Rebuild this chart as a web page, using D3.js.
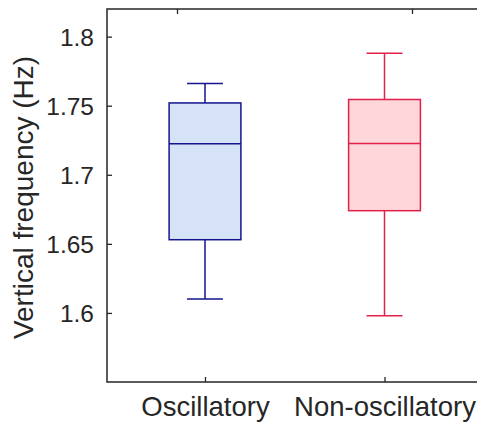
<!DOCTYPE html>
<html>
<head>
<meta charset="utf-8">
<script src="https://cdn.jsdelivr.net/npm/d3@7"></script>
<style>
  html, body { margin: 0; padding: 0; background: #ffffff; }
  svg { display: block; }
  text { font-family: "Liberation Sans", Arial, Helvetica, sans-serif; fill: #262626; }
</style>
</head>
<body>
<svg id="chart" width="477" height="422"></svg>
<script>
// ---- data ----
const categories = ["Oscillatory", "Non-oscillatory"];
const whiskerLow  = [1.610, 1.598];
const q1          = [1.653, 1.674];
const medians     = [1.7225, 1.7227];
const q3          = [1.752, 1.7545];
const whiskerHigh = [1.766, 1.788];
const yTickValues = [1.6, 1.65, 1.7, 1.75, 1.8];
const yTickLabels = ["1.6", "1.65", "1.7", "1.75", "1.8"];
const yLabel = "Vertical frequency (Hz)";

(function () {
// ---- styles ----
const strokeColors = ["#14148f", "#e3204b"];
const fillColors   = ["#d6e2f5", "#ffd6d9"];
const axisColor = "#262626";

const svg = d3.select("#chart");
const W = 477;
const mLeft = 107, mTop = 9, mBottom = 382;

const y = d3.scaleLinear().domain([1.55, 1.82]).range([mBottom, mTop]);
const x = d3.scaleLinear().domain([1, 2]).range([205, 384.5]);
const xTop = d3.scaleLinear().domain([1, 2]).range([177, 412]);
const boxW = 0.4, capW = 0.2;

const data = categories.map((c, i) => ({
  c, i, pos: i + 1,
  lo: whiskerLow[i], q1: q1[i], med: medians[i], q3: q3[i], hi: whiskerHigh[i]
}));

const g = svg.append("g");

// boxes
const bx = g.selectAll("g.box").data(data).enter().append("g").attr("class", "box");
bx.append("line")
  .attr("x1", d => x(d.pos)).attr("x2", d => x(d.pos))
  .attr("y1", d => y(d.hi)).attr("y2", d => y(d.q3))
  .attr("stroke", d => strokeColors[d.i]).attr("stroke-width", 1.5);
bx.append("line")
  .attr("x1", d => x(d.pos)).attr("x2", d => x(d.pos))
  .attr("y1", d => y(d.q1)).attr("y2", d => y(d.lo))
  .attr("stroke", d => strokeColors[d.i]).attr("stroke-width", 1.5);
bx.append("line")
  .attr("x1", d => x(d.pos - capW / 2)).attr("x2", d => x(d.pos + capW / 2))
  .attr("y1", d => y(d.hi)).attr("y2", d => y(d.hi))
  .attr("stroke", d => strokeColors[d.i]).attr("stroke-width", 1.5);
bx.append("line")
  .attr("x1", d => x(d.pos - capW / 2)).attr("x2", d => x(d.pos + capW / 2))
  .attr("y1", d => y(d.lo)).attr("y2", d => y(d.lo))
  .attr("stroke", d => strokeColors[d.i]).attr("stroke-width", 1.5);
bx.append("rect")
  .attr("x", d => x(d.pos - boxW / 2))
  .attr("width", d => x(d.pos + boxW / 2) - x(d.pos - boxW / 2))
  .attr("y", d => y(d.q3))
  .attr("height", d => y(d.q1) - y(d.q3))
  .attr("fill", d => fillColors[d.i])
  .attr("stroke", d => strokeColors[d.i]).attr("stroke-width", 1.5);
bx.append("line")
  .attr("x1", d => x(d.pos - boxW / 2)).attr("x2", d => x(d.pos + boxW / 2))
  .attr("y1", d => y(d.med)).attr("y2", d => y(d.med))
  .attr("stroke", d => strokeColors[d.i]).attr("stroke-width", 1.5);

// axes
const yAxis = d3.axisLeft(y).tickValues(yTickValues)
  .tickFormat((d, i) => yTickLabels[i]).tickSizeInner(-5).tickSizeOuter(0).tickPadding(13);
const ya = svg.append("g").attr("transform", `translate(${mLeft},0)`).call(yAxis);
ya.select(".domain").remove();
ya.selectAll(".tick line").attr("stroke", axisColor).attr("stroke-width", 1.3);
ya.selectAll(".tick text").attr("font-size", 24.5).attr("dy", "0.36em")
  .style("font-family", '"Liberation Sans", Arial, sans-serif').attr("fill", axisColor);

const xAxis = d3.axisBottom(x).tickValues([1, 2])
  .tickFormat((d, i) => categories[i]).tickSizeInner(-5).tickSizeOuter(0).tickPadding(14);
const xa = svg.append("g").attr("transform", `translate(0,${mBottom})`).call(xAxis);
xa.select(".domain").remove();
xa.selectAll(".tick line").attr("stroke", axisColor).attr("stroke-width", 1.3);
xa.selectAll(".tick text").attr("font-size", 27.5).attr("dy", "0.71em")
  .style("font-family", '"Liberation Sans", Arial, sans-serif').attr("fill", axisColor);

const xTopAxis = d3.axisTop(xTop).tickValues([1, 2]).tickFormat("")
  .tickSizeInner(-5).tickSizeOuter(0);
const xt = svg.append("g").attr("transform", `translate(0,${mTop})`).call(xTopAxis);
xt.select(".domain").remove();
xt.selectAll(".tick line").attr("stroke", axisColor).attr("stroke-width", 1.3);

// axis lines
svg.append("path")
  .attr("d", `M${W},${mTop}H${mLeft}V${mBottom}H${W}`)
  .attr("fill", "none").attr("stroke", axisColor).attr("stroke-width", 1.5);

// y label
svg.append("text")
  .attr("transform", `translate(33,${(mTop + mBottom) / 2 + 2}) rotate(-90)`)
  .attr("text-anchor", "middle")
  .attr("font-size", 28)
  .text(yLabel);
})();
</script>
</body>
</html>
